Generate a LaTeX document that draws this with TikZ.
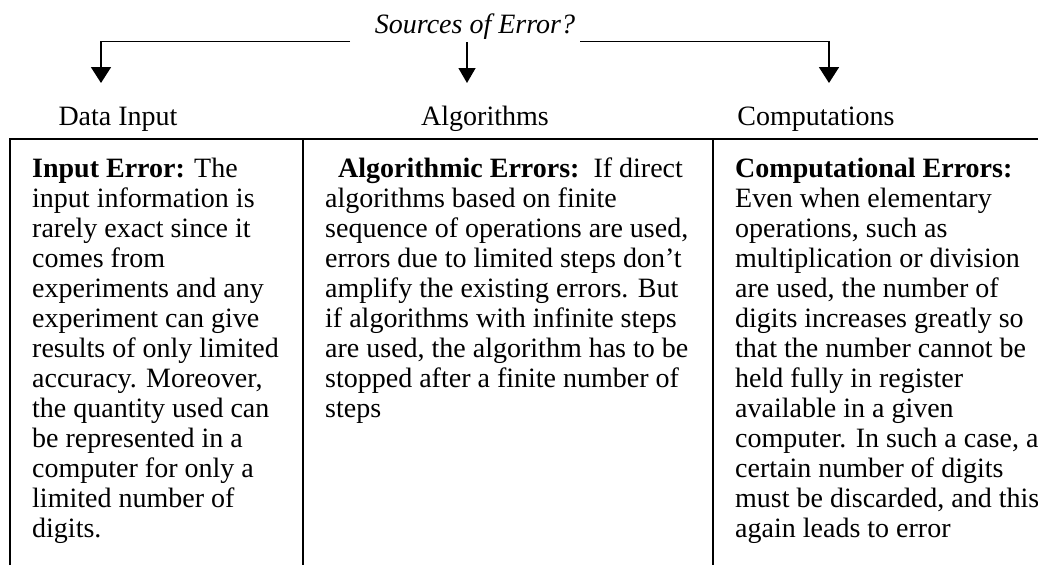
\documentclass[tikz,border=0pt]{standalone}
\usepackage{fontspec}
\setmainfont{Liberation Serif}
\usetikzlibrary{arrows.meta}
\begin{document}
\begin{tikzpicture}[x=1pt,y=-1pt,
  conn/.style={line width=1.8pt,-{Triangle[width=20pt,length=16pt]}},
  connthin/.style={line width=1.4pt,-{Triangle[width=17pt,length=15pt]}},
  rule/.style={line width=1.6pt},
  lbl/.style={font=\fontsize{28}{30}\selectfont, inner sep=0pt, anchor=base},
  coltext/.style={font=\fontsize{28}{30}\selectfont, inner sep=0pt, anchor=north west, align=left}]
\useasboundingbox (0,0) rectangle (1038,565);

% title and branches
\node[lbl, font=\fontsize{28}{30}\selectfont\itshape] (title) at (475,33) {Sources of Error?};
\coordinate (t1) at (350,41.5);
\coordinate (a1) at (101,83);
\coordinate (t2) at (467,42);
\coordinate (a2) at (467,83);
\coordinate (t3) at (580,41.5);
\coordinate (a3) at (829,83);
\draw[conn] (t1) -| (a1);
\draw[connthin] (t2) -- (a2);
\draw[conn] (t3) -| (a3);

% column labels
\node[lbl] (lab1) at (118,125) {Data Input};
\node[lbl] (lab2) at (485,125) {Algorithms};
\node[lbl] (lab3) at (816,125) {Computations};

% table rules
\coordinate (r0) at (10,139);
\coordinate (r1) at (1038,139);
\coordinate (b0) at (10,565);
\coordinate (c1) at (303,139);
\coordinate (d1) at (303,565);
\coordinate (c2) at (713,139);
\coordinate (d2) at (713,565);
\draw[rule] (b0) -- (r0) -- (r1);
\draw[rule] (c1) -- (d1);
\draw[rule] (c2) -- (d2);

% column texts
\node[coltext] (col1) at (32,156) {\strut\textbf{Input Error:} The\\
input information is\\
rarely exact since it\\
comes from\\
experiments and any\\
experiment can give\\
results of only limited\\
accuracy. Moreover,\\
the quantity used can\\
be represented in a\\
computer for only a\\
limited number of\\
digits.};

\node[coltext] (col2) at (325,156) {\strut\hspace*{13pt}\textbf{Algorithmic Errors:}\ \ If direct\\
algorithms based on finite\\
sequence of operations are used,\\
errors due to limited steps don't\\
amplify the existing errors. But\\
if algorithms with infinite steps\\
are used, the algorithm has to be\\
stopped after a finite number of\\
steps};

\node[coltext] (col3) at (735,156) {\strut\textbf{Computational Errors:}\\
Even when elementary\\
operations, such as\\
multiplication or division\\
are used, the number of\\
digits increases greatly so\\
that the number cannot be\\
held fully in register\\
available in a given\\
computer. In such a case, a\\
certain number of digits\\
must be discarded, and this\\
again leads to error};
\end{tikzpicture}
\end{document}
